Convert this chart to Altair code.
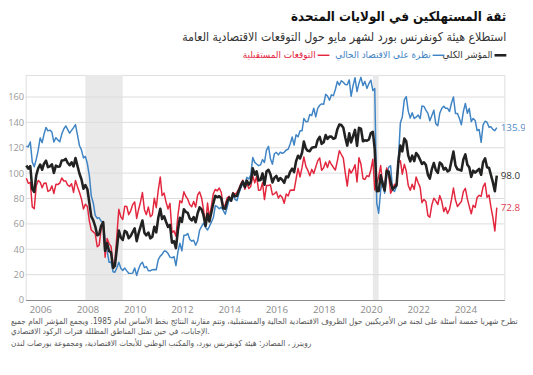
import altair as alt
import pandas as pd

# ---- Data (monthly, Jun 2005 - May 2025) ----
overall = [
    106.0, 103.6, 105.5, 87.5, 85.2, 98.3, 103.8,
    106.8, 102.7, 107.5, 109.8, 104.7, 105.4, 107.0, 100.2, 105.9, 105.1, 105.3, 110.0,
    110.2, 111.2, 108.2, 106.3, 108.5, 105.3, 111.9, 105.6, 99.5, 95.2, 87.8, 90.6,
    87.3, 76.4, 65.9, 62.8, 58.1, 51.0, 51.9, 58.5, 61.4, 38.8, 44.7, 38.6,
    37.4, 25.3, 26.9, 40.8, 54.8, 49.3, 47.4, 54.5, 53.4, 48.7, 50.6, 53.6,
    56.5, 46.4, 52.3, 57.7, 62.7, 52.9, 51.0, 53.2, 48.6, 49.9, 57.8, 53.3,
    64.8, 72.0, 63.8, 66.0, 61.7, 57.6, 59.2, 45.2, 46.4, 40.9, 55.2, 64.8,
    61.5, 71.6, 69.5, 68.7, 64.4, 62.7, 65.4, 61.3, 68.4, 73.1, 71.5, 66.7,
    58.4, 68.0, 61.9, 69.0, 76.2, 82.1, 81.0, 81.8, 80.2, 72.4, 72.0, 77.5,
    80.7, 78.3, 83.9, 81.7, 82.2, 86.4, 90.3, 93.4, 89.0, 94.1, 91.0, 93.1,
    103.8, 98.8, 101.4, 94.3, 94.6, 99.8, 90.9, 101.3, 102.6, 99.1, 92.6, 96.3,
    97.8, 94.0, 96.2, 94.7, 92.4, 97.4, 96.7, 101.1, 103.5, 100.8, 109.4, 113.7,
    111.6, 116.1, 124.9, 119.4, 117.6, 117.3, 120.0, 120.4, 120.6, 126.2, 128.6, 123.1,
    124.3, 130.0, 127.0, 128.8, 128.8, 127.1, 127.9, 134.7, 138.4, 137.9, 135.7, 128.1,
    121.7, 131.4, 124.2, 129.2, 134.1, 121.5, 135.7, 135.1, 125.1, 125.9, 125.5, 126.5,
    131.6, 132.6, 118.8, 85.7, 85.9, 98.3, 91.7, 86.3, 101.8, 101.4, 92.9, 87.1,
    88.9, 90.4, 109.0, 121.7, 117.2, 127.3, 125.1, 113.8, 109.3, 113.8, 109.5, 115.8,
    113.8, 110.5, 107.2, 108.6, 106.4, 98.7, 95.7, 103.2, 108.0, 102.5, 100.2, 108.3,
    107.1, 102.9, 104.2, 101.3, 102.3, 109.7, 117.0, 106.1, 103.0, 102.6, 102.0, 110.7,
    114.8, 106.7, 104.7, 97.0, 102.0, 100.4, 101.9, 103.3, 98.7, 108.7, 111.7, 104.7,
    104.1, 98.3, 92.9, 85.7, 98.0,
]

present = [
    121.2, 120.8, 124.6, 108.7, 105.0, 110.9, 118.0,
    127.8, 124.0, 130.6, 136.0, 133.3, 133.9, 132.4, 124.5, 128.0, 126.2, 124.8, 130.8,
    134.8, 137.2, 134.5, 131.5, 133.7, 135.9, 138.3, 130.0, 121.6, 118.4, 112.0, 113.2,
    107.4, 97.7, 82.0, 76.5, 66.7, 64.5, 64.8, 62.1, 61.4, 46.3, 39.0, 29.7,
    29.9, 22.3, 21.9, 25.5, 29.7, 25.0, 23.3, 25.2, 23.0, 21.1, 21.0, 21.2,
    25.2, 19.4, 24.2, 28.2, 29.8, 25.5, 26.4, 23.1, 23.1, 23.9, 24.0, 23.9,
    31.9, 34.6, 36.0, 38.6, 38.5, 36.6, 33.8, 33.3, 34.2, 27.1, 38.0, 44.8,
    38.8, 51.0, 51.0, 52.4, 47.9, 46.4, 47.1, 43.2, 46.7, 55.0, 58.1, 60.6,
    57.3, 55.2, 57.9, 61.4, 64.8, 74.4, 73.6, 71.9, 73.2, 70.7, 67.6, 73.1,
    79.1, 78.3, 82.5, 79.3, 78.3, 84.2, 88.3, 91.7, 91.5, 96.7, 95.4, 98.6,
    112.4, 108.5, 107.2, 105.9, 106.5, 110.7, 108.4, 118.1, 121.1, 111.4, 107.1, 115.3,
    116.4, 114.4, 116.5, 115.5, 116.4, 118.3, 118.8, 123.0, 128.5, 122.2, 130.3, 128.6,
    133.4, 133.4, 143.1, 140.6, 140.7, 146.3, 145.4, 151.2, 144.3, 151.1, 153.5, 154.6,
    154.3, 162.1, 160.8, 157.5, 161.7, 161.1, 165.9, 172.2, 169.4, 172.8, 171.6, 169.9,
    169.6, 173.5, 160.6, 169.0, 175.2, 164.3, 170.9, 175.5, 169.0, 172.3, 166.8, 170.5,
    173.3, 165.1, 166.7, 76.4, 68.4, 86.7, 94.2, 84.2, 98.5, 104.6, 105.9, 87.2,
    85.5, 89.6, 110.0, 139.6, 144.3, 157.7, 160.3, 148.9, 143.4, 147.6, 143.1, 144.1,
    145.8, 143.0, 153.0, 152.6, 149.6, 147.1, 141.3, 145.4, 149.6, 138.9, 137.4, 147.2,
    150.9, 152.8, 151.1, 151.1, 148.6, 155.3, 160.0, 147.1, 147.1, 143.1, 138.2, 148.5,
    154.9, 147.2, 151.0, 140.6, 143.1, 141.5, 133.6, 134.4, 124.3, 138.0, 140.9, 140.2,
    136.2, 136.5, 134.5, 133.5, 135.9,
]

expectations = [
    96.0, 92.0, 92.8, 73.3, 72.0, 89.8, 94.3,
    92.8, 88.5, 92.1, 92.3, 85.6, 86.4, 90.0, 84.0, 91.2, 91.0, 92.3, 96.2,
    93.8, 93.8, 90.7, 89.5, 91.7, 84.8, 94.3, 89.3, 84.8, 79.7, 71.7, 75.5,
    73.8, 62.2, 55.2, 53.7, 52.3, 42.0, 43.3, 56.1, 61.4, 33.8, 48.5, 44.5,
    42.3, 27.3, 30.2, 51.0, 71.5, 65.5, 63.5, 74.0, 73.7, 67.2, 70.3, 75.2,
    77.3, 64.3, 71.0, 77.3, 84.7, 71.2, 67.3, 73.3, 65.7, 67.2, 80.3, 72.8,
    86.7, 97.0, 82.3, 84.3, 77.2, 71.7, 76.2, 53.2, 54.5, 50.2, 66.7, 78.2,
    76.7, 85.3, 81.8, 79.5, 75.3, 73.5, 77.7, 73.3, 82.8, 85.2, 80.5, 70.8,
    59.2, 76.5, 64.5, 74.0, 83.8, 87.2, 86.0, 88.3, 84.8, 73.5, 75.0, 80.5,
    81.8, 78.3, 84.8, 83.3, 84.8, 87.8, 91.7, 94.5, 87.3, 92.3, 88.0, 89.5,
    98.0, 92.3, 97.5, 86.5, 86.7, 92.5, 79.2, 90.2, 90.3, 90.8, 83.0, 83.7,
    85.3, 80.3, 82.7, 80.8, 76.3, 83.5, 82.0, 86.5, 86.8, 86.5, 95.5, 103.8,
    97.0, 104.5, 112.8, 105.3, 102.2, 98.0, 103.0, 99.8, 104.8, 109.7, 112.0, 102.2,
    104.3, 108.7, 104.5, 109.7, 106.8, 104.5, 102.5, 109.7, 117.7, 114.7, 111.8, 100.2,
    89.8, 103.3, 100.0, 102.7, 106.7, 93.0, 112.2, 107.0, 95.8, 95.0, 98.0, 97.2,
    102.5, 111.0, 86.8, 91.8, 97.5, 106.0, 90.0, 87.7, 104.0, 99.3, 84.2, 87.0,
    91.2, 91.0, 108.3, 109.8, 99.2, 107.0, 101.7, 90.3, 86.5, 91.3, 87.2, 97.0,
    92.5, 88.8, 76.7, 79.3, 77.7, 66.5, 65.3, 75.0, 80.3, 78.2, 75.3, 82.3,
    77.8, 69.7, 73.0, 68.2, 71.5, 79.3, 88.3, 78.8, 73.7, 75.7, 77.8, 85.5,
    88.0, 79.7, 73.8, 68.0, 74.7, 73.0, 80.8, 82.5, 81.7, 89.2, 92.2, 81.0,
    82.7, 72.8, 65.2, 54.4, 72.8,
]

y_ticks = [0, 20, 40, 60, 80, 100, 120, 140, 160]
x_tick_years = [2006, 2008, 2010, 2012, 2014, 2016, 2018, 2020, 2022, 2024]
recession_start = ["2007-12-01T00:00:00", "2020-02-01T00:00:00"]
recession_end = ["2009-06-30T00:00:00", "2020-04-30T00:00:00"]

title_text = "ثقة المستهلكين في الولايات المتحدة"
subtitle_text = "استطلاع هيئة كونفرنس بورد لشهر مايو حول التوقعات الاقتصادية العامة"
leg_overall = "المؤشر الكلي"
leg_present = "نظرة على الاقتصاد الحالي"
leg_expect = "التوقعات المستقبلية"
note1 = "تطرح شهريا خمسة أسئلة على لجنة من الأمريكيين حول الظروف الاقتصادية الحالية والمستقبلية، وتتم مقارنة النتائج بخط الأساس لعام 1985. ويجمع المؤشر العام جميع"
note2 = "الإجابات، في حين تمثل المناطق المظللة فترات الركود الاقتصادي."
note3 = "رويترز ، المصادر: هيئة كونفرنس بورد، والمكتب الوطني للأبحاث الاقتصادية، ومجموعة بورصات لندن"

# ---- Styles ----
C_BLACK = "#222222"
C_BLUE = "#3f84c4"
C_RED = "#e3263d"
W = 487
H = 229
AR_FONT = "DejaVu Sans Condensed, DejaVu Sans"
NUM_FONT = "Open Sans"

n = len(overall)
dates = [f"{2005 + (5 + i) // 12}-{(5 + i) % 12 + 1:02d}-01T00:00:00" for i in range(n)]
df = pd.DataFrame({"date": dates, "overall": overall, "present": present, "expect": expectations})

bands = pd.DataFrame({"start": recession_start, "end": recession_end})
grid_df = pd.DataFrame({"v": y_ticks[1:]})

last = pd.DataFrame({
    "date": [dates[-1]] * 3,
    "value": [present[-1], overall[-1], expectations[-1]],
    "label": [f"{present[-1]:.1f}", f"{overall[-1]:.1f}", f"{expectations[-1]:.1f}"],
    "series": ["present", "overall", "expect"],
})

xscale = alt.Scale(domain=[alt.DateTime(year=2005, month=5, date=22),
                           alt.DateTime(year=2025, month=8, date=26)])
yscale = alt.Scale(domain=[0, 177.4], nice=False, zero=True)

xaxis = alt.Axis(
    values=[alt.DateTime(year=y, month=1, date=1) for y in x_tick_years],
    format="%Y", grid=False, ticks=False, labelPadding=5,
    domainColor="#8a8a8a", domainWidth=1,
    labelColor="#8c8c8c", labelFont=NUM_FONT, labelFontSize=10, title=None,
)
yaxis = alt.Axis(
    values=y_ticks, grid=False, ticks=False, domain=False, labelPadding=2,
    labelColor="#9a9a9a", labelFont=NUM_FONT, labelFontSize=9.5, title=None,
)

X = lambda f: alt.X(f, scale=xscale, axis=xaxis)
Y = lambda f: alt.Y(f, scale=yscale, axis=yaxis)

band_layer = alt.Chart(bands).mark_rect(color="#e9e9e9").encode(
    x=X("start:T"), x2="end:T", y=alt.value(0), y2=alt.value(H),
)

grid_layer = alt.Chart(grid_df).mark_rule(color="#dcdcdc", strokeWidth=1).encode(
    y=Y("v:Q"),
)

def line(field, color, width):
    return alt.Chart(df).mark_line(color=color, strokeWidth=width, strokeJoin="round").encode(
        x=X("date:T"), y=Y(f"{field}:Q"),
    )

blue_line = line("present", C_BLUE, 1.5)
red_line = line("expect", C_RED, 1.5)
black_line = line("overall", C_BLACK, 2.6)

end_labels = alt.Chart(last).mark_text(align="left", baseline="middle", dx=4,
                                       font=NUM_FONT, fontSize=10).encode(
    x=X("date:T"), y=Y("value:Q"),
    text="label:N",
    color=alt.Color("series:N", legend=None,
                    scale=alt.Scale(domain=["present", "overall", "expect"],
                                    range=["#4f8cc6", "#333333", "#e0404f"])),
)

def txt(s, x, y, size, color, bold=False, align="right", font=AR_FONT):
    return alt.Chart(pd.DataFrame({"t": [s]})).mark_text(
        align=align, baseline="middle", font=font, fontSize=size, color=color,
        fontWeight="bold" if bold else "normal",
    ).encode(x=alt.value(x), y=alt.value(y), text="t:N")

def dash(x1, x2, y, color, width):
    return alt.Chart(pd.DataFrame({"a": [0]})).mark_rule(color=color, strokeWidth=width).encode(
        x=alt.value(x1), x2=alt.value(x2), y=alt.value(y)
    )

title = txt(title_text, 489, -59, 13.5, "#111111", bold=True)
subtitle = txt(subtitle_text, 489, -39, 12.5, "#333333")
legend = [
    dash(477, 489, -20, C_BLACK, 2.6), txt(leg_overall, 475, -20, 10, "#333333"),
    dash(414, 426, -20, C_BLUE, 1.5), txt(leg_present, 412, -20, 10, C_BLUE),
    dash(297, 309, -20, C_RED, 1.5), txt(leg_expect, 295, -20, 10, C_RED),
]
notes = [
    txt(note1, -15, 251, 8.3, "#555555", align="left"),
    txt(note2, -15, 262, 8.3, "#555555", align="left"),
    txt(note3, -15, 274, 8.3, "#555555", align="left"),
]

chart = alt.layer(
    band_layer, grid_layer, blue_line, red_line, black_line, end_labels,
    title, subtitle, *legend, *notes,
).properties(
    width=W, height=H,
    autosize=alt.AutoSizeParams(type="none"),
    padding={"left": 18, "top": 65, "right": 21, "bottom": 64},
).configure_view(stroke=None).configure(background="white")

chart.save("out.html", embed_options={"renderer": "svg", "actions": False})
